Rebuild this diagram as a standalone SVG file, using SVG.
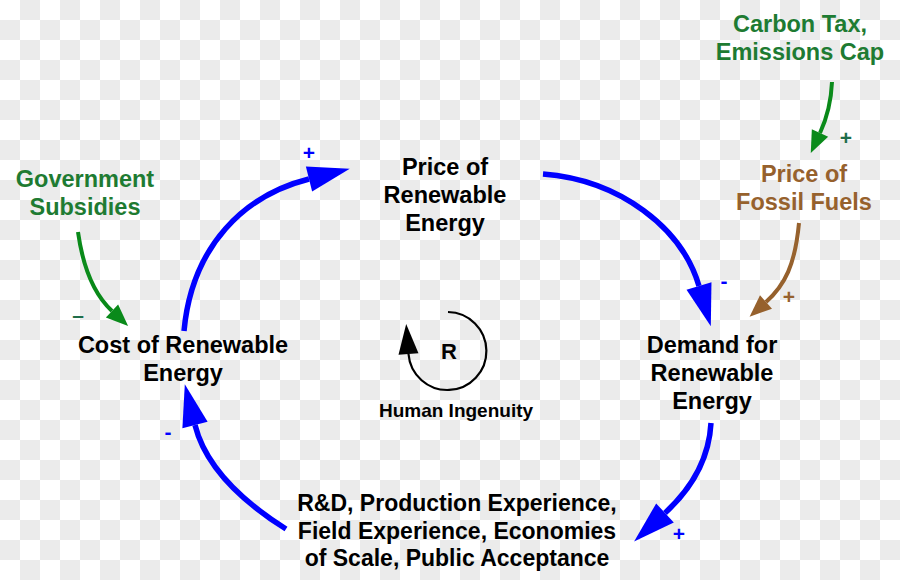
<svg xmlns="http://www.w3.org/2000/svg" width="900" height="580" viewBox="0 0 900 580">
<defs>
<pattern id="chk" width="40" height="40" patternUnits="userSpaceOnUse">
<rect width="40" height="40" fill="#ffffff"/>
<rect x="20" y="0" width="20" height="20" fill="#ebebeb"/>
<rect x="0" y="20" width="20" height="20" fill="#ebebeb"/>
</pattern>
<marker id="bh" markerUnits="userSpaceOnUse" markerWidth="42" markerHeight="26" refX="0" refY="13" orient="auto" overflow="visible">
<path d="M0,0 L42,13 L0,26 z" fill="#0000ff"/>
</marker>
<marker id="gh" markerUnits="userSpaceOnUse" markerWidth="22" markerHeight="18" refX="0" refY="9" orient="auto" overflow="visible">
<path d="M0,0 L22,9 L0,18 z" fill="#0a8a1a"/>
</marker>
<marker id="brh" markerUnits="userSpaceOnUse" markerWidth="22" markerHeight="18" refX="0" refY="9" orient="auto" overflow="visible">
<path d="M0,0 L22,9 L0,18 z" fill="#96612d"/>
</marker>
<marker id="kh" markerUnits="userSpaceOnUse" markerWidth="30" markerHeight="20" refX="0" refY="10" orient="auto" overflow="visible">
<path d="M0,0 L30,10 L0,20 z" fill="#000000"/>
</marker>
</defs>
<style>
text{font-family:"Liberation Sans",Arial,sans-serif;font-weight:bold;text-anchor:middle}
.n{font-size:23.5px;fill:#000}
.g{font-size:23.5px;fill:#1e7b32}
.br{font-size:23.5px;fill:#96612d}
.s{font-size:19px;fill:#000}
.sb{font-size:21px;fill:#0000ff}
.sg{font-size:21px;fill:#1f6e4a}
.sbr{font-size:21px;fill:#96612d}
.bl{fill:none;stroke:#0000ff;stroke-width:5.5}
.gl{fill:none;stroke:#0a8a1a;stroke-width:4}
.brl{fill:none;stroke:#96612d;stroke-width:4}
</style>
<rect width="900" height="580" fill="url(#chk)"/>

<g id="connectors">
<path class="bl" d="M184,331 C192,245 245,195 309,179" marker-end="url(#bh)"/>
<path class="bl" d="M543,174 C620,180 682,228 699,286" marker-end="url(#bh)"/>
<path class="bl" d="M711,423 C709,460 690,490 665,513" marker-end="url(#bh)"/>
<path class="bl" d="M286,529 C240,500 205,465 195,425" marker-end="url(#bh)"/>
<path class="gl" d="M78,232 C84,275 98,298 112,311" marker-end="url(#gh)"/>
<path class="gl" d="M832,82 C831,105 826,120 820,133" marker-end="url(#gh)"/>
<path class="brl" d="M799,223 C795,265 785,285 766,302" marker-end="url(#brh)"/>
<text class="sb" x="309" y="160">+</text>
<text class="sb" x="724" y="288">-</text>
<text class="sb" x="679" y="541">+</text>
<text class="sb" x="168" y="439">-</text>
<text class="sg" x="846" y="145">+</text>
<text class="sbr" x="789" y="304">+</text>
<text class="sg" x="78" y="322">–</text>
</g>

<g id="price-renewable">
<text class="n" x="445" y="175">Price of</text>
<text class="n" x="445" y="203">Renewable</text>
<text class="n" x="445" y="231">Energy</text>
</g>
<g id="cost-renewable">
<text class="n" x="183" y="353">Cost of Renewable</text>
<text class="n" x="183" y="381">Energy</text>
</g>
<g id="demand-renewable">
<text class="n" x="712" y="353">Demand for</text>
<text class="n" x="712" y="381">Renewable</text>
<text class="n" x="712" y="409">Energy</text>
</g>
<g id="rd">
<text class="n" x="457" y="511" style="font-size:23px">R&amp;D, Production Experience,</text>
<text class="n" x="457" y="538.5" style="font-size:23px">Field Experience, Economies</text>
<text class="n" x="457" y="566" style="font-size:23px">of Scale, Public Acceptance</text>
</g>
<g id="gov-subsidies">
<text class="g" x="85" y="187">Government</text>
<text class="g" x="85" y="215">Subsidies</text>
</g>
<g id="carbon-tax">
<text class="g" x="800" y="32">Carbon Tax,</text>
<text class="g" x="800" y="60">Emissions Cap</text>
</g>
<g id="fossil-price">
<text class="br" x="804" y="182">Price of</text>
<text class="br" x="804" y="210">Fossil Fuels</text>
</g>
<g id="loop-r">
<path d="M448,312 A39,39 0 1 1 408.5,354" fill="none" stroke="#000" stroke-width="2.2" marker-end="url(#kh)"/>
<text x="449" y="359" style="font-size:22px;fill:#000">R</text>
<text class="s" x="456" y="417">Human Ingenuity</text>
</g>
</svg>
